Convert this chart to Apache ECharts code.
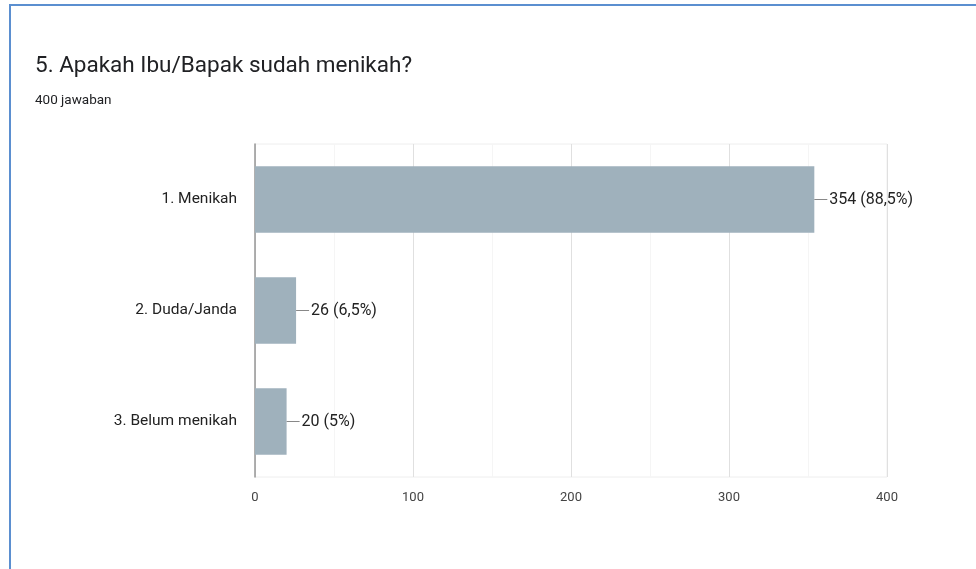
<!DOCTYPE html>
<html>
<head>
<meta charset="utf-8">
<script src="https://cdn.jsdelivr.net/npm/echarts@6/dist/echarts.min.js"></script>
<style>
  html, body { margin: 0; padding: 0; background: #fff; }
  #chart { width: 976px; height: 569px; }
</style>
</head>
<body>
<div id="chart"></div>
<script>
const titleText = '5. Apakah Ibu/Bapak sudah menikah?';
const subtitleText = '400 jawaban';
const categories = ['1. Menikah', '2. Duda/Janda', '3. Belum menikah'];
const counts = [354, 26, 20];
const percents = ['88,5%', '6,5%', '5%'];
const xTicks = [0, 100, 200, 300, 400];

const chart = echarts.init(document.getElementById('chart'));
chart.setOption({
  animation: false,
  backgroundColor: '#fff',
  textStyle: { fontFamily: 'Roboto' },
  graphic: [
    { type: 'line', shape: { x1: 9, y1: 5, x2: 976, y2: 5 }, style: { stroke: '#5b8fd0', lineWidth: 2 } },
    { type: 'line', shape: { x1: 10, y1: 4, x2: 10, y2: 569 }, style: { stroke: '#5b8fd0', lineWidth: 2 } }
  ],
  title: {
    text: titleText,
    subtext: subtitleText,
    left: 30,
    top: 50,
    itemGap: 16,
    textStyle: { fontFamily: 'Roboto', fontSize: 22.5, fontWeight: 'normal', color: '#202124' },
    subtextStyle: { fontFamily: 'Roboto', fontSize: 13.5, color: '#202124' }
  },
  grid: {
    left: 255, right: 89, top: 144, bottom: 92,
    show: true, borderColor: '#eeeeee', borderWidth: 1
  },
  xAxis: {
    type: 'value',
    min: xTicks[0], max: xTicks[xTicks.length - 1], interval: 100,
    axisLine: { show: false },
    axisTick: { show: false },
    axisLabel: { fontSize: 13, color: '#444', margin: 14 },
    splitLine: { show: true, lineStyle: { color: '#e0e0e0' } },
    minorTick: { show: false, splitNumber: 2 },
    minorSplitLine: { show: true, lineStyle: { color: '#f5f5f5' } }
  },
  yAxis: {
    type: 'category',
    data: categories,
    inverse: true,
    axisLine: { show: true, lineStyle: { color: '#999', width: 1.5 } },
    axisTick: { show: false },
    axisLabel: { fontSize: 15.5, color: '#222', margin: 18 }
  },
  series: [{
    type: 'bar',
    data: counts,
    barWidth: '60%',
    itemStyle: { color: '#9fb1bc' },
    label: {
      show: true,
      position: 'right',
      distance: 0,
      formatter: (p) => '{l|}{t|' + counts[p.dataIndex] + ' (' + percents[p.dataIndex] + ')}',
      rich: {
        l: { width: 13, height: 1, backgroundColor: '#888', verticalAlign: 'middle' },
        t: { fontSize: 16, color: '#222', padding: [0, 0, 0, 2], verticalAlign: 'middle' }
      }
    }
  }]
});
</script>
</body>
</html>
